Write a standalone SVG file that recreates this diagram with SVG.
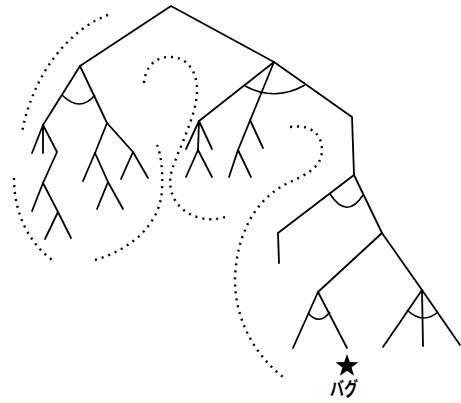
<svg xmlns="http://www.w3.org/2000/svg" width="461" height="403" viewBox="0 0 461 403">
<style>
.e{stroke:#000;stroke-width:1.8;fill:none;stroke-linecap:round;stroke-linejoin:round}
.a{stroke:#000;stroke-width:1.6;fill:none}
.d{stroke:#000;stroke-width:2.4;fill:none;stroke-dasharray:2 5}
.t{font-family:"Noto Sans CJK JP","Noto Sans",sans-serif;font-size:19px;font-weight:bold;fill:#000}
</style>
<rect width="461" height="403" fill="#fff"/>
<g id="boundaries">
<path class="d" d="M108,15 C72,28 34,70 22,132"/>
<path class="d" d="M14,178 C14,215 30,245 55,262"/>
<path class="d" d="M95,260 C130,250 160,225 162,190 C163,170 161,155 157,145"/>
<path class="d" d="M144,83 C146,62 160,56 172,57 C188,58 197,72 197,90 C197,115 180,145 172,170 C166,190 175,210 197,217 C210,221 220,219 228,216"/>
<path class="d" d="M290,127 C312,124 322,135 322,150 C322,168 305,175 290,182 C255,198 236,235 235,280 C235,320 255,355 283,377"/>
</g>
<g id="connectors">
<path class="e" d="M80,66 L171,6 L274,62"/>
<path class="e" d="M43,125 L80,66 L107,123"/>
<path class="e" d="M32,153 L43,125 L43,153 M43,125 L57,152 L43,183"/>
<path class="e" d="M32,211 L43,183 L58,212"/>
<path class="e" d="M45,239 L58,212 L71,238"/>
<path class="e" d="M95,153 L107,123 L133,152"/>
<path class="e" d="M83,181 L95,153 L108,182"/>
<path class="e" d="M97,209 L108,182 L123,209"/>
<path class="e" d="M121,179 L133,152 L148,178"/>
<path class="e" d="M199,121 L274,62 L238,150 M250,120 L263,148"/>
<path class="e" d="M229,177 L238,150 L251,177"/>
<path class="e" d="M186,149 L199,121 L212,149 M199,121 L198,150"/>
<path class="e" d="M186,177 L198,150 L212,177"/>
<path class="e" d="M274,62 L352,117 L354,175"/>
<path class="e" d="M279,263 L278,233 L354,175 L382,233"/>
<path class="e" d="M318,292 L382,233 L422,290"/>
<path class="e" d="M293,348 L318,292 L347,348"/>
<path class="e" d="M383,347 L422,290 L460,345 M422,290 L423,346"/>
</g>
<g id="node-root"/>
<g id="node-A"><path class="a" d="M62,95 Q80,113 95,95"/></g>
<g id="node-M"><path class="a" d="M245,86 Q275,102 305,85"/></g>
<g id="node-R"><path class="a" d="M330,194 Q347,220 363,195"/></g>
<g id="node-T"><path class="a" d="M308,313 Q319,326 330,312"/></g>
<g id="node-U"><path class="a" d="M407,310 Q423,325 438,312"/></g>
<g id="node-bug">
<polygon fill="#000" points="347,354 349.8,362.1 358.4,362.3 351.6,367.5 354.1,375.7 347,370.8 339.9,375.7 342.4,367.5 335.6,362.3 344.2,362.1"/>
<text class="t" x="330" y="396" textLength="28" lengthAdjust="spacingAndGlyphs">バグ</text>
</g>
</svg>
